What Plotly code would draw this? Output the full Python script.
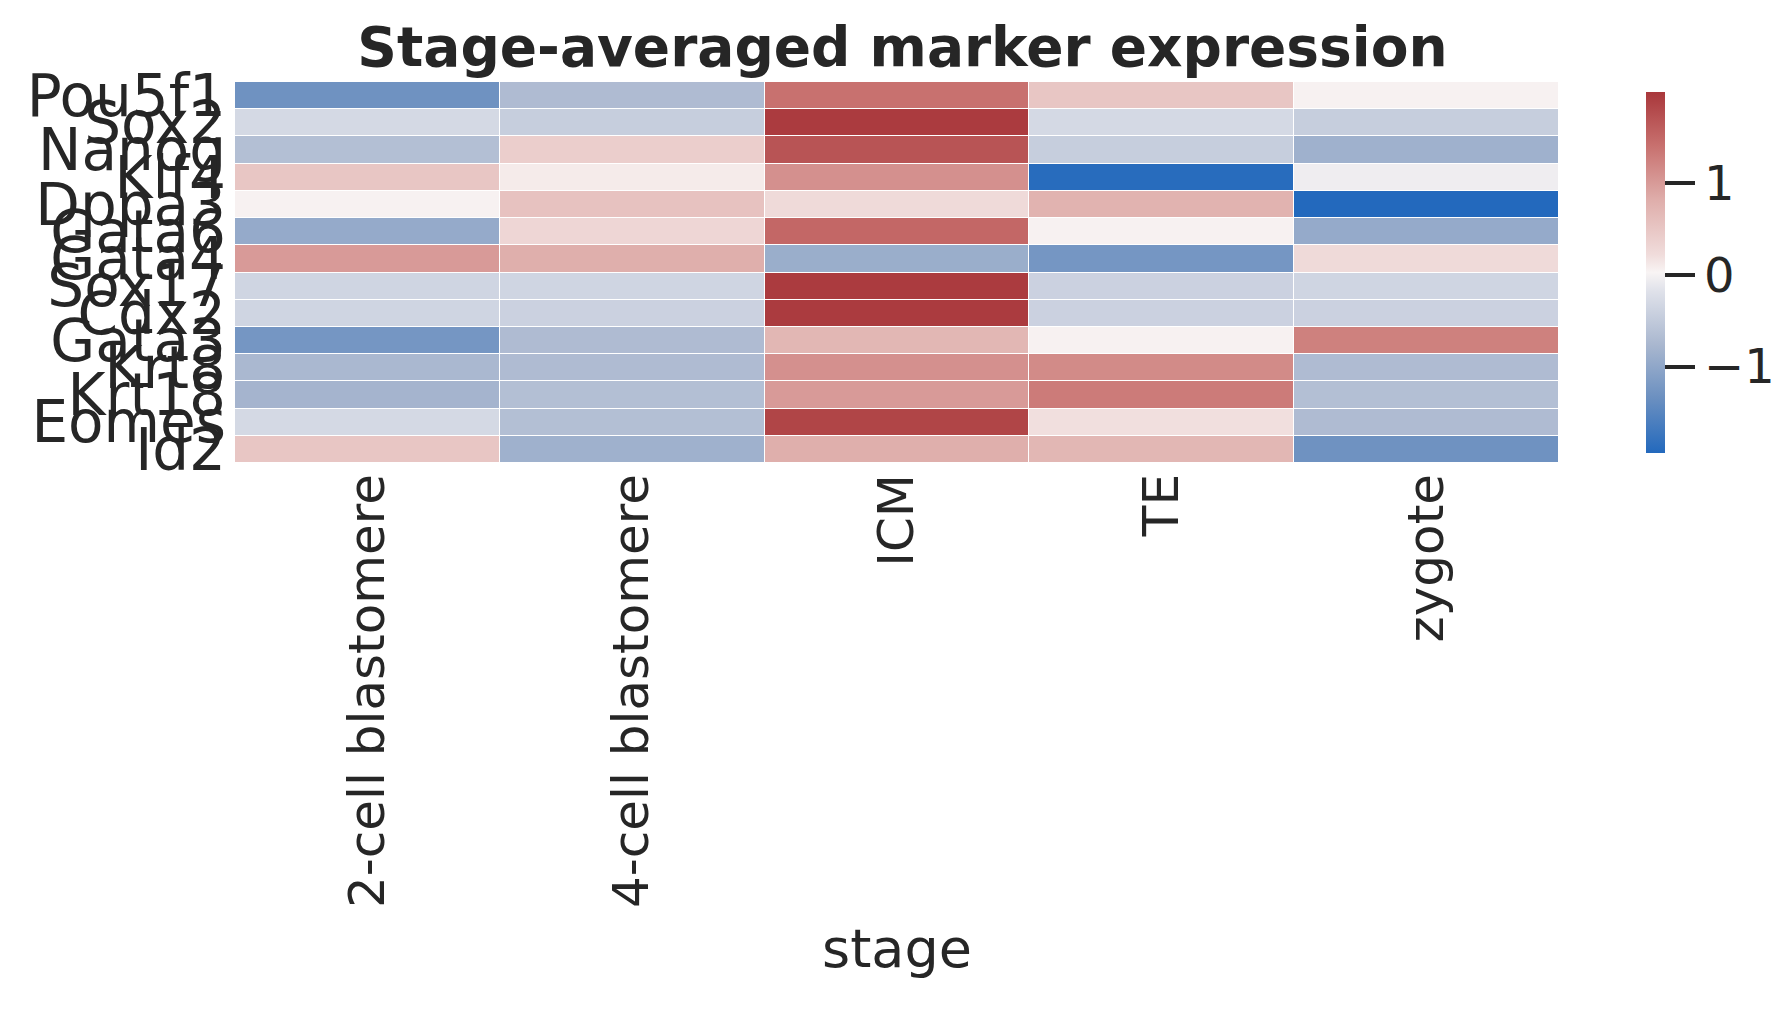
import plotly.graph_objects as go

stages = ["2-cell blastomere", "4-cell blastomere", "ICM", "TE", "zygote"]
genes = ["Pou5f1", "Sox2", "Nanog", "Klf4", "Dppa3", "Gata6", "Gata4",
         "Sox17", "Cdx2", "Gata3", "Krt8", "Krt18", "Eomes", "Id2"]

# z-scored expression, rows = genes, cols = stages
expr = [
    [-1.30, -0.70, 1.40, 0.50, 0.05],
    [-0.30, -0.45, 1.95, -0.30, -0.45],
    [-0.65, 0.40, 1.70, -0.45, -0.85],
    [0.50, 0.10, 1.10, -1.90, -0.05],
    [0.05, 0.55, 0.25, 0.75, -1.94],
    [-0.95, 0.30, 1.50, 0.05, -0.95],
    [1.00, 0.80, -0.90, -1.25, 0.25],
    [-0.35, -0.35, 1.95, -0.40, -0.35],
    [-0.35, -0.40, 1.95, -0.40, -0.40],
    [-1.25, -0.70, 0.70, 0.05, 1.25],
    [-0.75, -0.70, 1.10, 1.15, -0.70],
    [-0.80, -0.65, 1.00, 1.30, -0.65],
    [-0.30, -0.65, 1.85, 0.20, -0.70],
    [0.50, -0.85, 0.80, 0.70, -1.30],
]

# seaborn "vlag"-like
vlag = [
    [0.0, "#2369bd"], [0.15, "#6a8fc0"], [0.3, "#a9b7cf"],
    [0.45, "#e0e2ea"], [0.5, "#f8f4f4"], [0.55, "#f0dcdb"],
    [0.7, "#dfaeab"], [0.85, "#c8716f"], [1.0, "#a9373b"],
]

ink = "#262626"
fig = go.Figure(go.Heatmap(
    z=expr, x=stages, y=genes, colorscale=vlag, zmin=-1.94, zmax=1.99,
    xgap=1, ygap=1,
    colorbar=dict(
        x=1.058, xanchor="left", y=0, yanchor="bottom", len=1, lenmode="fraction",
        thickness=19, outlinewidth=0, ticks="outside", ticklen=30, tickwidth=4,
        tickcolor=ink, tickvals=[-1, 0, 1], ticktext=["\u22121", "0", "1"],
        tickfont=dict(size=48, color=ink),
    ),
))

fig.update_layout(
    width=1789, height=1027,
    margin=dict(l=227, r=235, t=74, b=572),
    plot_bgcolor="white", paper_bgcolor="white",
    font=dict(family="DejaVu Sans", color=ink),
    title=dict(text="<b>Stage-averaged marker expression</b>", x=0.5, xanchor="center",
               y=0.962, yanchor="middle", font=dict(size=55, color=ink)),
    xaxis=dict(tickangle=-90, tickfont=dict(size=50), showgrid=False, ticks="",
               tickmode="array", tickvals=stages,
               title=dict(text="stage", font=dict(size=54), standoff=22)),
    yaxis=dict(autorange="reversed", tickfont=dict(size=58), showgrid=False, ticks="",
               tickmode="array", tickvals=genes, ticklabelstandoff=8),
)

fig.write_html("out.html")
